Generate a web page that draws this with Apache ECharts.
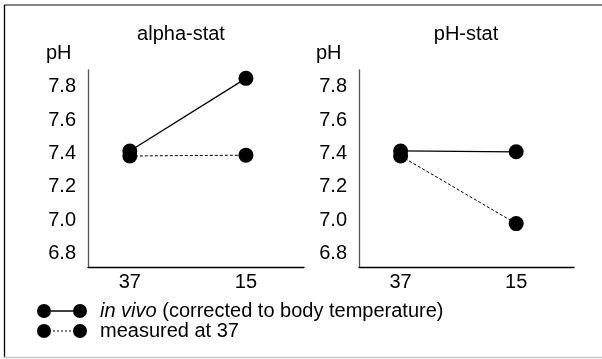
<!DOCTYPE html>
<html>
<head>
<meta charset="utf-8">
<script src="https://cdn.jsdelivr.net/npm/echarts@6/dist/echarts.min.js"></script>
<style>
  html, body { margin: 0; padding: 0; background: #fff; }
  #main { width: 602px; height: 359px; }
</style>
</head>
<body>
<div id="main"></div>
<script>
// temperatures (categories) and pH values
var temps = ['37', '15'];
var yTicks = [6.8, 7.0, 7.2, 7.4, 7.6, 7.8];
var alphaInVivo = [7.415, 7.85];
var alphaMeasured = [7.385, 7.39];
var phInVivo = [7.415, 7.41];
var phMeasured = [7.385, 6.98];

var FONT = 'Liberation Sans, Arial, sans-serif';
var FS = 20;

function pts(vals) {
    return vals.map(function (v, i) { return [i, v]; });
}

var circlePath = 'M0,7 A7,7 0 1,1 14,7 A7,7 0 1,1 0,7 Z M36,7 A7,7 0 1,1 50,7 A7,7 0 1,1 36,7 Z ';
var solidIcon = 'path://' + circlePath + 'M14,6.3 L36,6.3 L36,7.7 L14,7.7 Z';
var dashIcon = 'path://' + circlePath +
    'M16,6.5 L18,6.5 L18,7.5 L16,7.5 Z M20,6.5 L22,6.5 L22,7.5 L20,7.5 Z ' +
    'M24,6.5 L26,6.5 L26,7.5 L24,7.5 Z M28,6.5 L30,6.5 L30,7.5 L28,7.5 Z M32,6.5 L34,6.5 L34,7.5 L32,7.5 Z';

function xAx(idx) {
    return {
        type: 'value', gridIndex: idx, min: -0.36, max: 1.5,
        axisLine: { onZero: false, lineStyle: { color: '#000', width: 1.3 } },
        axisTick: { show: false },
        splitLine: { show: false },
        axisLabel: {
            customValues: [0, 1], margin: 5,
            color: '#000', fontSize: FS, fontFamily: FONT,
            formatter: function (v) { return temps[Math.round(v)]; }
        }
    };
}
function yAx(idx) {
    return {
        type: 'value', gridIndex: idx, min: 6.72, max: 7.9,
        axisLine: { show: true, onZero: false, lineStyle: { color: '#555', width: 1.3 } },
        axisTick: { show: false },
        splitLine: { show: false },
        axisLabel: {
            customValues: yTicks, margin: 12,
            color: '#000', fontSize: FS, fontFamily: FONT,
            formatter: function (v) { return v.toFixed(1); }
        }
    };
}
function ser(name, idx, vals, dashed) {
    return {
        name: name, type: 'line', xAxisIndex: idx, yAxisIndex: idx,
        data: pts(vals),
        symbol: 'circle', symbolSize: 15,
        itemStyle: { color: '#000', borderWidth: 0 },
        lineStyle: dashed ? { color: '#000', width: 1, type: [3, 2] } : { color: '#000', width: 1.3 },
        z: dashed ? 2 : 3
    };
}

var titleStyle = { fontSize: FS, fontWeight: 'normal', color: '#000', fontFamily: FONT };

var myChart = echarts.init(document.getElementById('main'), null, { renderer: 'canvas' });
var option = {
    animation: false,
    backgroundColor: '#fff',
    textStyle: { fontFamily: FONT },
    title: [
        { text: 'alpha-stat', left: 181, top: 24, textAlign: 'center', padding: 0, textStyle: titleStyle },
        { text: 'pH-stat', left: 466, top: 24, textAlign: 'center', padding: 0, textStyle: titleStyle },
        { text: 'pH', left: 46, top: 43, padding: 0, textStyle: titleStyle },
        { text: 'pH', left: 316, top: 43, padding: 0, textStyle: titleStyle }
    ],
    grid: [
        { left: 88, top: 70, width: 216, height: 197 },
        { left: 359, top: 70, width: 215, height: 197 }
    ],
    xAxis: [xAx(0), xAx(1)],
    yAxis: [yAx(0), yAx(1)],
    legend: {
        orient: 'vertical', left: 37, top: 301, padding: 0,
        itemWidth: 50, itemHeight: 14, itemGap: 0,
        selectedMode: false,
        itemStyle: { color: '#000', borderWidth: 0 },
        data: [
            { name: 'in vivo', icon: solidIcon },
            { name: 'measured', icon: dashIcon }
        ],
        formatter: function (name) {
            return name === 'in vivo' ? '{i|in vivo} (corrected to body temperature)' : 'measured at 37';
        },
        textStyle: {
            color: '#000', fontSize: FS, fontFamily: FONT, lineHeight: 19, padding: [0, 0, 0, 8],
            rich: { i: { fontStyle: 'italic', fontSize: FS, fontFamily: FONT, color: '#000' } }
        }
    },
    graphic: [
        { type: 'line', shape: { x1: 4, y1: 5, x2: 602, y2: 5 }, style: { stroke: '#888', lineWidth: 2 } },
        { type: 'line', shape: { x1: 4.5, y1: 5, x2: 4.5, y2: 358 }, style: { stroke: '#000', lineWidth: 1.3 } },
        { type: 'line', shape: { x1: 4, y1: 357.5, x2: 602, y2: 357.5 }, style: { stroke: '#c8c8c8', lineWidth: 1.5 } }
    ],
    series: [
        ser('measured', 0, alphaMeasured, true),
        ser('in vivo', 0, alphaInVivo, false),
        ser('measured', 1, phMeasured, true),
        ser('in vivo', 1, phInVivo, false)
    ]
};
myChart.setOption(option);
</script>
</body>
</html>
